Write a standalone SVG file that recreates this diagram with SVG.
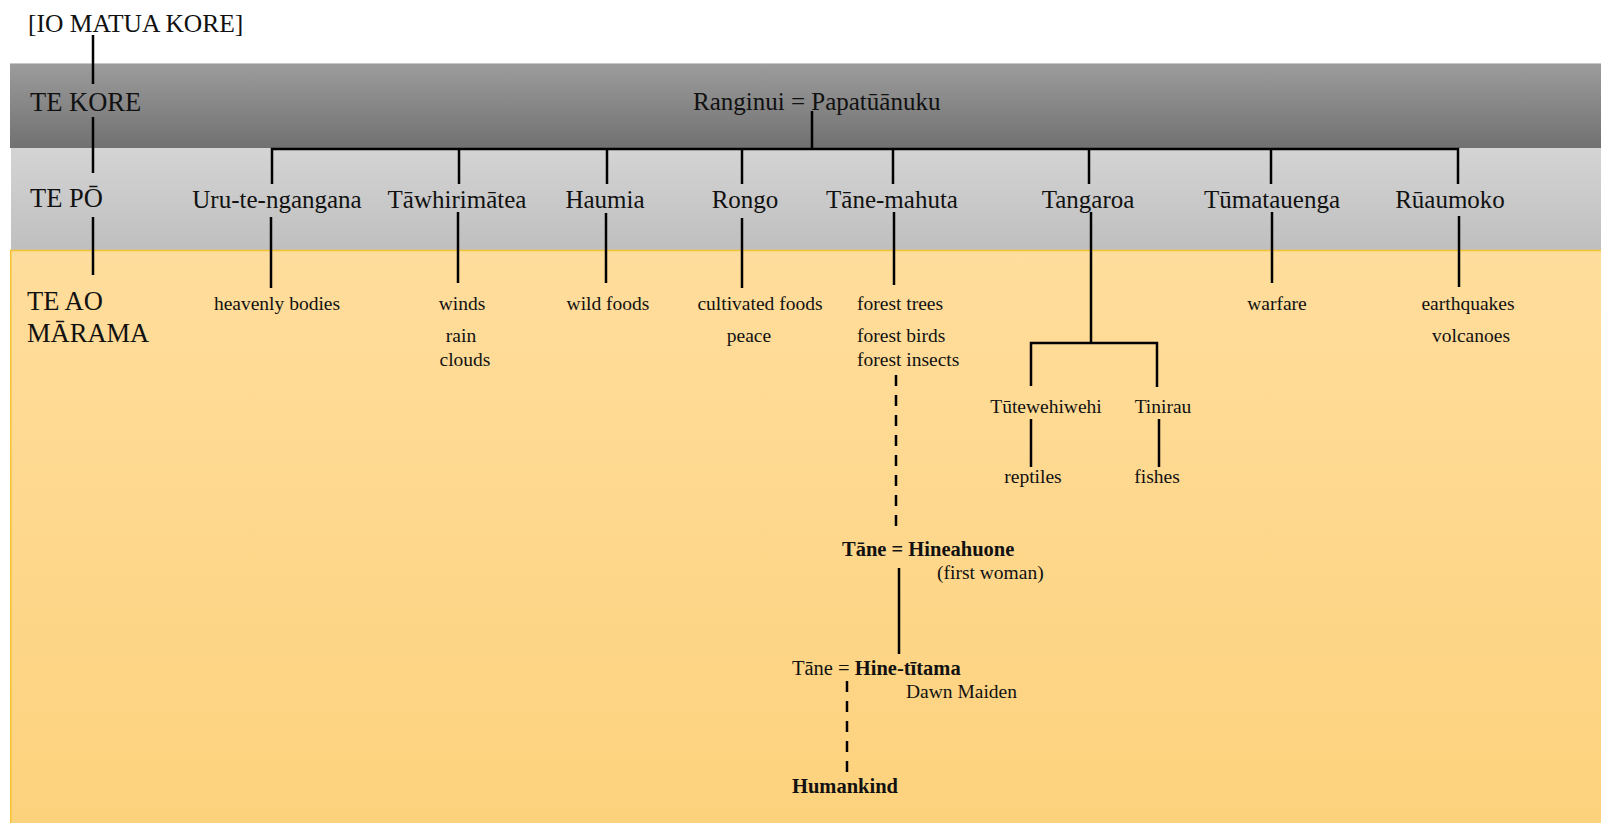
<svg xmlns="http://www.w3.org/2000/svg" width="1601" height="823" viewBox="0 0 1601 823">
<defs>
<linearGradient id="gDark" x1="0" y1="0" x2="0" y2="1">
<stop offset="0" stop-color="#9c9c9c"/>
<stop offset="1" stop-color="#717171"/>
</linearGradient>
<linearGradient id="gLight" x1="0" y1="0" x2="0" y2="1">
<stop offset="0" stop-color="#d4d4d4"/>
<stop offset="1" stop-color="#bfbfbf"/>
</linearGradient>
<linearGradient id="gYellow" x1="0" y1="0" x2="0" y2="1">
<stop offset="0" stop-color="#ffdd9c"/>
<stop offset="1" stop-color="#fdd27d"/>
</linearGradient>
<style>
text{font-family:"Liberation Serif","Times New Roman",serif;fill:#111;}
.h{font-size:25px;}
.side{font-size:26.5px;}
.s{font-size:19.5px;}
.b{font-size:20.5px;font-weight:bold;}
.m{text-anchor:middle;}
.ln{stroke:#000;stroke-width:2.5;fill:none;}
.dash{stroke:#000;stroke-width:2.5;fill:none;stroke-dasharray:11 9;}
</style>
</defs>
<rect x="0" y="0" width="1601" height="823" fill="#fff"/>
<g id="bands">
<rect x="10" y="63" width="1591" height="85" fill="url(#gDark)"/>
<line x1="10" y1="63.5" x2="1601" y2="63.5" stroke="#c8c8c8" stroke-width="1"/>
<rect x="11" y="148" width="1590" height="102" fill="url(#gLight)"/>
<rect x="10" y="250" width="1591" height="573" fill="url(#gYellow)"/>
<line x1="10" y1="250.5" x2="1601" y2="250.5" stroke="#f5c230" stroke-width="1.5"/>
<line x1="10.75" y1="250" x2="10.75" y2="823" stroke="#f5c230" stroke-width="1.5"/>
</g>
<g id="connectors">
<line class="ln" x1="93" y1="35" x2="93" y2="84"/>
<line class="ln" x1="93" y1="117" x2="93" y2="173"/>
<line class="ln" x1="93" y1="217" x2="93" y2="275"/>
<line class="ln" x1="812" y1="111" x2="812" y2="149"/>
<polyline class="ln" points="272,184 272,149 1458,149 1458,184"/>
<line class="ln" x1="459" y1="149" x2="459" y2="184"/>
<line class="ln" x1="607" y1="149" x2="607" y2="184"/>
<line class="ln" x1="742" y1="149" x2="742" y2="184"/>
<line class="ln" x1="893" y1="149" x2="893" y2="184"/>
<line class="ln" x1="1089" y1="149" x2="1089" y2="184"/>
<line class="ln" x1="1271" y1="149" x2="1271" y2="184"/>
<line class="ln" x1="271" y1="217" x2="271" y2="288"/>
<line class="ln" x1="458" y1="212" x2="458" y2="283"/>
<line class="ln" x1="606" y1="213" x2="606" y2="283"/>
<line class="ln" x1="742" y1="218" x2="742" y2="288"/>
<line class="ln" x1="894" y1="212" x2="894" y2="285"/>
<line class="ln" x1="1272" y1="212" x2="1272" y2="283"/>
<line class="ln" x1="1459" y1="216" x2="1459" y2="287"/>
<line class="ln" x1="1091" y1="212" x2="1091" y2="343"/>
<polyline class="ln" points="1031,386 1031,343 1157,343 1157,387"/>
<line class="ln" x1="1031" y1="419" x2="1031" y2="467"/>
<line class="ln" x1="1159" y1="419" x2="1159" y2="467"/>
<line class="dash" x1="896" y1="375" x2="896" y2="528"/>
<line class="ln" x1="899" y1="568" x2="899" y2="654"/>
<line class="dash" x1="847" y1="681" x2="847" y2="772"/>
</g>
<g id="io"><text x="28" y="32" style="font-size:25.5px">[IO MATUA KORE]</text></g>
<g id="te-kore"><text class="side" x="30" y="111">TE KORE</text></g>
<g id="te-po"><text class="side" x="30" y="207">TE PŌ</text></g>
<g id="te-ao-marama"><text class="side" x="27" y="310">TE AO</text><text class="side" x="27" y="342">MĀRAMA</text></g>
<g id="ranginui"><text class="h" x="693" y="110">Ranginui = Papatūānuku</text></g>
<g id="uru"><text class="h m" x="277" y="208">Uru-te-ngangana</text><text class="s m" x="277" y="310">heavenly bodies</text></g>
<g id="tawhirimatea"><text class="h m" x="457" y="208">Tāwhirimātea</text><text class="s m" x="462" y="310">winds</text><text class="s m" x="461" y="342">rain</text><text class="s m" x="465" y="366">clouds</text></g>
<g id="haumia"><text class="h m" x="605" y="208">Haumia</text><text class="s m" x="608" y="310">wild foods</text></g>
<g id="rongo"><text class="h m" x="745" y="208">Rongo</text><text class="s m" x="760" y="310">cultivated foods</text><text class="s m" x="749" y="342">peace</text></g>
<g id="tane-mahuta"><text class="h m" x="892" y="208">Tāne-mahuta</text><text class="s" x="857" y="310">forest trees</text><text class="s" x="857" y="342">forest birds</text><text class="s" x="857" y="366">forest insects</text></g>
<g id="tangaroa"><text class="h m" x="1088" y="208">Tangaroa</text></g>
<g id="tutewehiwehi"><text class="s m" x="1046" y="413">Tūtewehiwehi</text><text class="s m" x="1033" y="483">reptiles</text></g>
<g id="tinirau"><text class="s m" x="1163" y="413">Tinirau</text><text class="s m" x="1157" y="483">fishes</text></g>
<g id="tumatauenga"><text class="h m" x="1272" y="208">Tūmatauenga</text><text class="s m" x="1277" y="310">warfare</text></g>
<g id="ruaumoko"><text class="h m" x="1450" y="208">Rūaumoko</text><text class="s m" x="1468" y="310">earthquakes</text><text class="s m" x="1471" y="342">volcanoes</text></g>
<g id="hineahuone"><text class="b" x="842" y="556">Tāne = Hineahuone</text><text class="s" x="937" y="579">(first woman)</text></g>
<g id="hine-titama"><text x="792" y="675" style="font-size:20.5px">Tāne = <tspan font-weight="bold">Hine-tītama</tspan></text><text class="s" x="906" y="698">Dawn Maiden</text></g>
<g id="humankind"><text class="b" x="792" y="793">Humankind</text></g>
</svg>
